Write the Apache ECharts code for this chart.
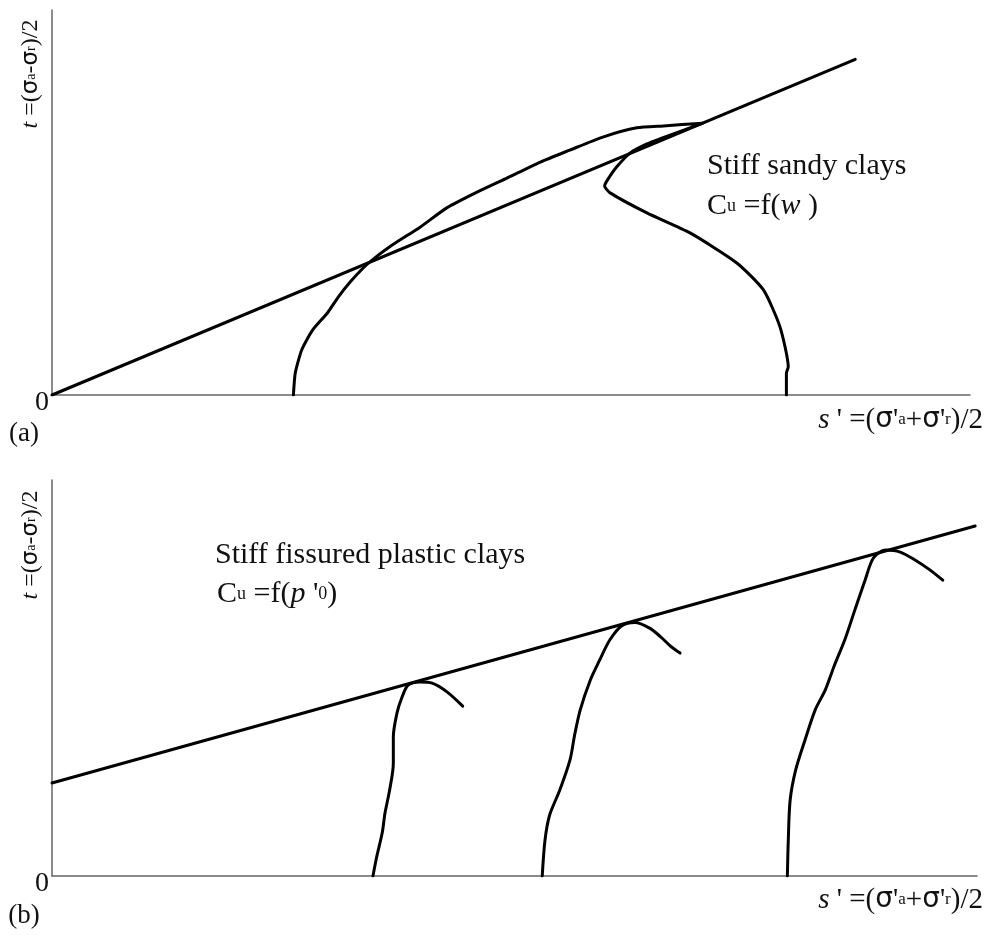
<!DOCTYPE html>
<html>
<head>
<meta charset="utf-8">
<script src="https://cdn.jsdelivr.net/npm/echarts@6/dist/echarts.min.js"></script>
<style>
  html, body { margin: 0; padding: 0; background: #fff; }
  #chart { width: 994px; height: 939px; }
</style>
</head>
<body>
<div id="chart"></div>
<script>
// (a) stiff sandy clays: failure envelope and stress path, in [s', t] axis units
var failureLineA = [[0, 0], [87.5, 87.2]];
var stressPathA = [
  [26.3, 0], [26.5, 5.7], [27.2, 11.7], [28.4, 16.9], [30.0, 21.3], [31.2, 25.5],
  [32.5, 29.4], [33.9, 33.0], [34.9, 35.1], [37.1, 39.0], [40.1, 43.6], [43.0, 48.6],
  [46.3, 52.7], [49.6, 56.4], [53.2, 60.5], [56.4, 63.6], [60.0, 67.0], [63.7, 69.4],
  [66.6, 69.9], [70.9, 70.6], [66.2, 66.5], [64.8, 65.2], [63.0, 62.9], [61.5, 59.2],
  [60.5, 55.8], [60.2, 54.3], [60.8, 52.5], [64.8, 47.3], [69.5, 42.1], [74.6, 34.3],
  [77.5, 27.3], [79.3, 17.7], [80.2, 7.3], [80.0, 5.7], [80.0, 0]
];

// (b) stiff fissured plastic clays: envelope with cohesion intercept and three paths
var failureLineB = [[0, 23.5], [99.8, 88.4]];
var stressPathB1 = [
  [34.7, 0], [35.1, 4.8], [35.7, 10.9], [36.0, 15.9], [36.5, 21.7], [36.9, 28.5],
  [36.9, 35.1], [37.3, 41.2], [37.8, 44.9], [38.5, 48.2], [39.8, 49.0], [41.1, 48.7],
  [42.7, 46.5], [44.4, 42.9]
];
var stressPathB2 = [
  [53.0, 0], [53.3, 9.1], [53.8, 15.4], [54.9, 21.7], [56.0, 29.3], [56.5, 35.6],
  [57.1, 41.9], [58.2, 49.5], [59.2, 54.5], [60.3, 59.6], [61.6, 63.2], [63.0, 64.0],
  [64.6, 62.6], [65.8, 60.4], [66.8, 58.2], [67.9, 56.3]
];
var stressPathB3 = [
  [79.5, 0], [79.6, 9.1], [79.8, 19.2], [80.4, 26.8], [81.4, 34.3], [82.5, 41.9],
  [83.6, 47.0], [84.6, 53.3], [85.7, 59.6], [86.8, 67.2], [87.9, 74.7], [88.8, 80.3],
  [90.1, 82.3], [91.7, 81.8], [93.3, 79.8], [94.9, 77.3], [96.3, 74.7]
];

var axisRange = { min: 0, max: 100 };
var FONT = 'Liberation Serif';
var SIGMA_FONT = 'DejaVu Sans';

var chart = echarts.init(document.getElementById('chart'), null, { renderer: 'canvas' });

function valueAxis(gridIndex) {
  return {
    type: 'value',
    gridIndex: gridIndex,
    min: axisRange.min,
    max: axisRange.max,
    axisLine: { show: true, onZero: false, lineStyle: { color: '#666', width: 1.5 } },
    axisTick: { show: false },
    axisLabel: { show: false },
    splitLine: { show: false }
  };
}

function pathSeries(data, xi, yi, smooth) {
  return {
    type: 'line',
    xAxisIndex: xi,
    yAxisIndex: yi,
    data: data,
    smooth: smooth || false,
    showSymbol: false,
    symbol: 'none',
    silent: true,
    animation: false,
    lineStyle: { color: '#000', width: 3, join: 'round', cap: 'round' }
  };
}

// rich-text styles at a given body size
function richAt(size) {
  return {
    i: { fontFamily: FONT, fontSize: size, fontStyle: 'italic', fill: '#111' },
    n: { fontFamily: FONT, fontSize: size, fill: '#111' },
    g: { fontFamily: SIGMA_FONT, fontSize: Math.round(size * 0.95), fill: '#111' },
    sub: { fontFamily: FONT, fontSize: Math.round(size * 0.6), fill: '#111', verticalAlign: 'middle' }
  };
}

function label(text, x, y, opts) {
  opts = opts || {};
  var size = opts.size || 30;
  return {
    type: 'text',
    x: x,
    y: y,
    rotation: opts.rotation || 0,
    silent: true,
    style: {
      text: text,
      rich: richAt(size),
      font: size + 'px "' + FONT + '"',
      fill: '#111',
      align: opts.align || 'left',
      verticalAlign: opts.verticalAlign || 'middle'
    }
  };
}

var tLabel = '{i|t} {n|=(}{g|σ}{sub|a}{n|-}{g|σ}{sub|r}{n|)/2}';
var sLabel = '{i|s} {n|\' =(}{g|σ}{n|\'}{sub|a}{n|+}{g|σ}{n|\'}{sub|r}{n|)/2}';

chart.setOption({
  backgroundColor: '#fff',
  animation: false,
  grid: [
    { left: 52, top: 10, width: 918, height: 385 },
    { left: 52, top: 480, width: 925, height: 396 }
  ],
  xAxis: [valueAxis(0), valueAxis(1)],
  yAxis: [valueAxis(0), valueAxis(1)],
  series: [
    pathSeries(failureLineA, 0, 0),
    pathSeries(stressPathA, 0, 0, 0.2),
    pathSeries(failureLineB, 1, 1),
    pathSeries(stressPathB1, 1, 1, 0.3),
    pathSeries(stressPathB2, 1, 1, 0.3),
    pathSeries(stressPathB3, 1, 1, 0.3)
  ],
  graphic: [
    // panel (a)
    label(tLabel, 31, 74, { rotation: Math.PI / 2, align: 'center', size: 24 }),
    label('{n|0}', 42, 403, { align: 'center', size: 28 }),
    label('{n|(a)}', 24, 434, { align: 'center', size: 27 }),
    label(sLabel, 983, 420, { align: 'right', size: 29 }),
    label('{n|Stiff sandy clays}', 707, 166),
    label('{n|C}{sub|u}{n| =f(}{i|w}{n| )}', 707, 206),
    // panel (b)
    label(tLabel, 31, 545, { rotation: Math.PI / 2, align: 'center', size: 24 }),
    label('{n|0}', 42, 884, { align: 'center', size: 28 }),
    label('{n|(b)}', 24, 916, { align: 'center', size: 27 }),
    label(sLabel, 983, 900, { align: 'right', size: 29 }),
    label('{n|Stiff fissured plastic clays}', 215, 555),
    label('{n|C}{sub|u}{n| =f(}{i|p}{n| \'}{sub|0}{n|)}', 217, 594)
  ]
});
</script>
</body>
</html>
